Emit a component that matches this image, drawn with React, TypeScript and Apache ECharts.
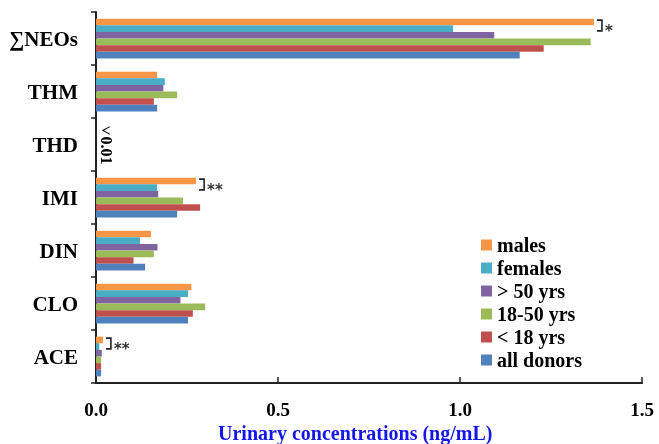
import React, { useEffect, useRef } from "react";
import * as echarts from "echarts";

const categories = ["∑NEOs", "THM", "THD", "IMI", "DIN", "CLO", "ACE"];
const seriesNames = ["males", "females", "> 50 yrs", "18-50 yrs", "< 18 yrs", "all donors"];
const males = [1.368, 0.168, null, 0.275, 0.151, 0.262, 0.019];
const females = [0.981, 0.189, null, 0.168, 0.121, 0.253, 0.009];
const over50 = [1.094, 0.185, null, 0.171, 0.169, 0.232, 0.016];
const age18to50 = [1.359, 0.223, null, 0.239, 0.159, 0.3, 0.014];
const under18 = [1.23, 0.159, null, 0.286, 0.103, 0.266, 0.014];
const allDonors = [1.164, 0.168, null, 0.223, 0.135, 0.253, 0.014];
const seriesValues = [males, females, over50, age18to50, under18, allDonors];
const colors = ["#F79646", "#4BACC6", "#8064A2", "#9BBB59", "#C0504D", "#4F81BD"];
const xTicks = [0, 0.5, 1.0, 1.5];
const annotations = [
  { cat: "∑NEOs", mark: "*" },
  { cat: "IMI", mark: "**" },
  { cat: "ACE", mark: "**" },
];
const belowLimit = { cat: "THD", sign: "<", value: "0.01" };
const axisTitle = "Urinary concentrations (ng/mL)";

const SERIF = "'Liberation Serif', 'Times New Roman', serif";

export default function App() {
  const ref = useRef<HTMLDivElement>(null);
  useEffect(() => {
    if (!ref.current) return;
    const chart = echarts.init(ref.current, null, { renderer: "svg" });
    const option: any = {
      animation: false,
      grid: { left: 96, right: 17, top: 12, bottom: 61, containLabel: false },
      legend: {
        orient: "vertical",
        left: 476,
        top: 230,
        itemWidth: 11,
        itemHeight: 11,
        itemGap: 3,
        icon: "rect",
        data: seriesNames,
        textStyle: { fontFamily: SERIF, fontWeight: "bold", fontSize: 20, lineHeight: 20, color: "#000" },
      },
      xAxis: {
        type: "value",
        min: xTicks[0],
        max: xTicks[xTicks.length - 1],
        interval: 0.5,
        splitLine: { show: false },
        axisLine: { show: true, lineStyle: { color: "#222", width: 2 } },
        axisTick: { show: true, inside: true, length: 6, lineStyle: { color: "#222", width: 1.5 } },
        axisLabel: {
          formatter: (v: number) => v.toFixed(1),
          fontFamily: SERIF,
          fontWeight: "bold",
          fontSize: 19,
          color: "#000",
          margin: 17,
        },
      },
      yAxis: {
        type: "category",
        data: categories,
        inverse: true,
        axisLine: { show: true, lineStyle: { color: "#222", width: 2 } },
        axisTick: { show: true, length: 5, lineStyle: { color: "#222", width: 1.5 } },
        axisLabel: { fontFamily: SERIF, fontWeight: "bold", fontSize: 21, color: "#000", margin: 18 },
      },
      series: seriesNames.map((name, i) => ({
        name,
        type: "bar",
        data: seriesValues[i],
        itemStyle: { color: colors[i] },
        barGap: "0%",
        barCategoryGap: "25%",
      })),
    };
    chart.setOption(option);

    const band =
      (chart.convertToPixel({ yAxisIndex: 0 }, categories[1]) as number) -
      (chart.convertToPixel({ yAxisIndex: 0 }, categories[0]) as number);
    const barW = (Math.abs(band) * 0.75) / seriesNames.length;
    const graphics: any[] = [];
    annotations.forEach((a) => {
      const idx = categories.indexOf(a.cat);
      const yc = chart.convertToPixel({ yAxisIndex: 0 }, a.cat) as number;
      const top = yc - 3 * barW + 1.5;
      const bottom = yc - barW - 1;
      const maxV = Math.max(males[idx] as number, females[idx] as number);
      const xb = (chart.convertToPixel({ xAxisIndex: 0 }, maxV) as number) + 3;
      graphics.push({
        type: "polyline",
        shape: { points: [[xb, top], [xb + 5, top], [xb + 5, bottom], [xb, bottom]] },
        style: { stroke: "#222", lineWidth: 1.6, fill: null },
      });
      graphics.push({
        type: "text",
        x: xb + 8,
        y: (top + bottom) / 2 + 5,
        style: {
          text: a.mark,
          font: "bold 15px 'DejaVu Sans', sans-serif",
          fill: "#333",
          textVerticalAlign: "middle",
        },
      });
    });
    const yThd = chart.convertToPixel({ yAxisIndex: 0 }, belowLimit.cat) as number;
    const x0 = chart.convertToPixel({ xAxisIndex: 0 }, 0) as number;
    graphics.push({
      type: "text",
      x: x0 + 10,
      y: yThd - 14,
      style: {
        text: belowLimit.sign,
        font: `bold 16px ${SERIF}`,
        fill: "#000",
        textAlign: "center",
        textVerticalAlign: "middle",
      },
    });
    graphics.push({
      type: "text",
      x: x0 + 10,
      y: yThd + 6,
      rotation: -Math.PI / 2,
      style: {
        text: belowLimit.value,
        font: `bold 16px ${SERIF}`,
        fill: "#000",
        textAlign: "center",
        textVerticalAlign: "middle",
      },
    });
    graphics.push({
      type: "text",
      x: 218,
      y: 433,
      style: {
        text: axisTitle,
        font: `bold 20px ${SERIF}`,
        fill: "#1515ee",
        textAlign: "left",
        textVerticalAlign: "middle",
      },
    });
    chart.setOption({ graphic: graphics });
    return () => chart.dispose();
  }, []);
  return <div ref={ref} style={{ position: "fixed", left: 0, top: 0, width: 659, height: 444 }} />;
}
